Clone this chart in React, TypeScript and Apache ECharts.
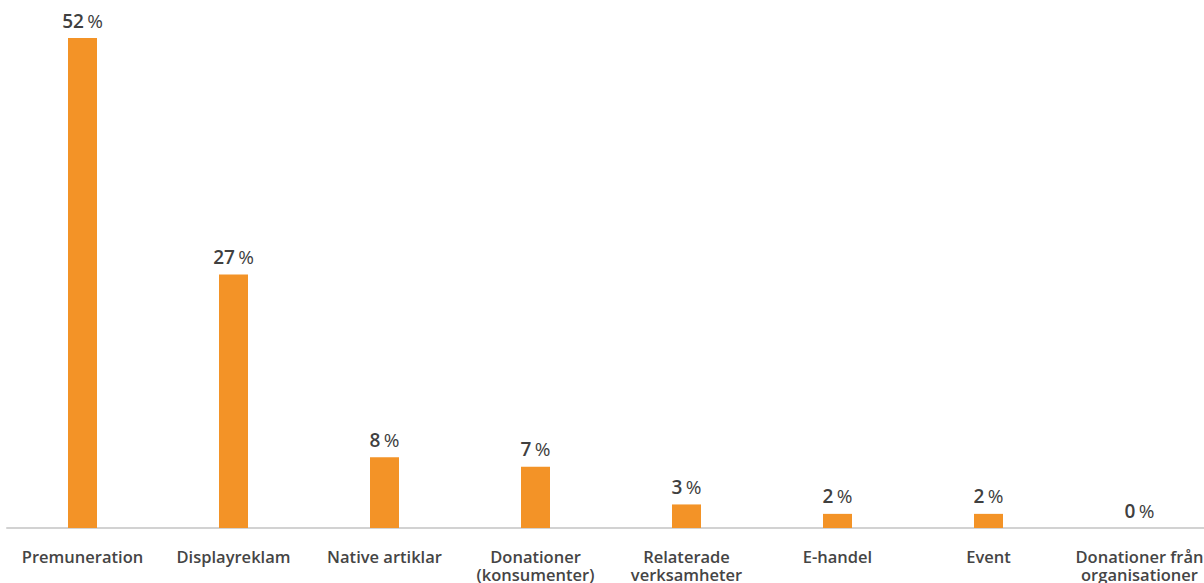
import React, { useEffect, useRef } from "react";
import * as echarts from "echarts";

const categories = [
  "Premuneration",
  "Displayreklam",
  "Native artiklar",
  "Donationer\n(konsumenter)",
  "Relaterade\nverksamheter",
  "E-handel",
  "Event",
  "Donationer från\norganisationer",
];
const values = [52.0, 26.9, 7.5, 6.5, 2.5, 1.5, 1.5, 0.0];

export default function App() {
  const ref = useRef<HTMLDivElement>(null);
  useEffect(() => {
    if (!ref.current) return;
    const chart = echarts.init(ref.current, null, { renderer: "svg" });
    chart.setOption({
      animation: false,
      grid: { left: 7, width: 1208, top: 38, bottom: 55, containLabel: false },
      xAxis: {
        type: "category",
        data: categories,
        axisLine: { show: true, lineStyle: { color: "#d2d2d2", width: 2 } },
        axisTick: { show: false },
        axisLabel: {
          interval: 0,
          margin: 19,
          color: "#454545",
          fontFamily: "Open Sans",
          fontWeight: 600,
          fontSize: 16.5,
          lineHeight: 18,
        },
      },
      yAxis: {
        type: "value",
        min: 0,
        max: 52,
        show: false,
        splitLine: { show: false },
      },
      series: [
        {
          type: "bar",
          data: values,
          barWidth: 29,
          itemStyle: { color: "#F39327" },
          label: {
            show: true,
            position: "top",
            distance: 8,
            formatter: (p: any) => `{v|${Math.round(p.value)}} {p|%}`,
            rich: {
              v: { fontFamily: "Open Sans", fontWeight: 600, fontSize: 19, color: "#404040" },
              p: { fontFamily: "Open Sans", fontWeight: 400, fontSize: 19, color: "#404040" },
            },
          },
        },
      ],
    });
    return () => chart.dispose();
  }, []);
  return (
    <div style={{ width: 1204, height: 583, position: "absolute", left: 0, top: 0, overflow: "hidden" }}>
      <div ref={ref} style={{ width: 1240, height: 583 }} />
    </div>
  );
}
